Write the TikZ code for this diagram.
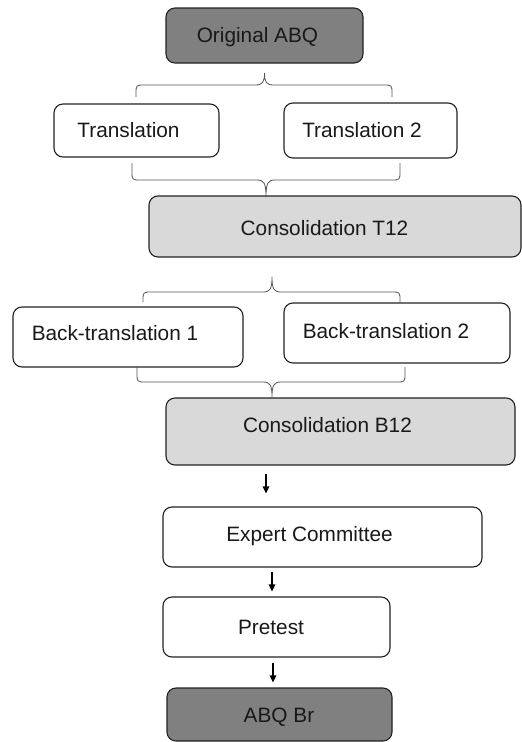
\documentclass[tikz,border=0pt]{standalone}
\usepackage{fontspec}
\setmainfont{Liberation Sans}
\usetikzlibrary{arrows.meta}
\definecolor{darkfill}{HTML}{808080}
\definecolor{lightfill}{HTML}{D9D9D9}
\definecolor{edge}{HTML}{222222}
\definecolor{bracecol}{HTML}{555555}
\newcommand\hbr[7]{%
  \draw[brc] ({#1},{#3}) -- ({#1},{#4+(#7)*9}) .. controls ({#1},{#4}) .. ({#1+9},{#4})
    -- ({#5-9},{#4}) .. controls ({#5-2},{#4}) and ({#5},{#4-(#7)*3}) .. ({#5},{#6})
    .. controls ({#5},{#4-(#7)*3}) and ({#5+2},{#4}) .. ({#5+9},{#4})
    -- ({#2-9},{#4}) .. controls ({#2},{#4}) .. ({#2},{#4+(#7)*9}) -- ({#2},{#3});}
\begin{document}
\begin{tikzpicture}[x=1pt,y=-1pt,
  box/.style={draw=edge, line width=1.1pt, rounded corners=9pt, inner sep=0pt, fill=white},
  txt/.style={anchor=base, inner sep=0pt, font=\fontsize{20.8}{24}\selectfont, text=black!90},
  brc/.style={draw=bracecol, line width=0.8pt},
  arr/.style={draw=black, line width=1.1pt, -{Triangle[width=6.5pt,length=7pt]}}]
\useasboundingbox (0,0) rectangle (522,742);
% boxes
\node[box, fill=darkfill, minimum width=197pt, minimum height=55pt] (orig) at (264.5,35.5) {};
\node[txt] (origt) at (257.5,42.5) {Original ABQ};
\node[box, minimum width=165pt, minimum height=53pt] (t1) at (136.5,130.5) {};
\node[txt] (t1t) at (128.5,137) {Translation};
\node[box, minimum width=173pt, minimum height=55pt] (t2) at (370.5,130.5) {};
\node[txt] (t2t) at (362,137) {Translation 2};
\node[box, fill=lightfill, minimum width=372pt, minimum height=61pt] (t12) at (335,226.5) {};
\node[txt] (t12t) at (324.5,235) {Consolidation T12};
\node[box, minimum width=230pt, minimum height=60pt] (bt1) at (128,337) {};
\node[txt] (bt1t) at (115,340) {Back-translation 1};
\node[box, minimum width=226pt, minimum height=60pt] (bt2) at (397,333) {};
\node[txt] (bt2t) at (386,338) {Back-translation 2};
\node[box, fill=lightfill, minimum width=349pt, minimum height=67pt] (b12) at (340.5,431.5) {};
\node[txt] (b12t) at (327.5,432) {Consolidation B12};
\node[box, minimum width=319pt, minimum height=60pt] (expert) at (322.5,537) {};
\node[txt] (expertt) at (309.5,541) {Expert Committee};
\node[box, minimum width=227pt, minimum height=60pt] (pretest) at (276.5,627) {};
\node[txt] (pretestt) at (271,634) {Pretest};
\node[box, fill=darkfill, minimum width=225pt, minimum height=53pt] (abqbr) at (279.5,714.5) {};
\node[txt] (abqbrt) at (279,722) {ABQ Br};
% braces
\hbr{136}{392}{97}{85}{264.5}{73}{1}
\hbr{132}{400}{163}{180}{266}{197}{-1}
\hbr{143}{400}{302}{292}{272}{277}{1}
\hbr{137}{405}{367}{382}{272}{397}{-1}
% arrows
\draw[arr] ([xshift=-74.5pt,yshift=-8pt]b12.south) -- ([xshift=-56.5pt,yshift=13pt]expert.north);
\draw[arr] ([xshift=-50.5pt,yshift=-4pt]expert.south) -- ([xshift=-4.5pt,yshift=5pt]pretest.north);
\draw[arr] ([xshift=-3.5pt,yshift=-5pt]pretest.south) -- ([xshift=-6.5pt,yshift=5pt]abqbr.north);
\end{tikzpicture}
\end{document}
